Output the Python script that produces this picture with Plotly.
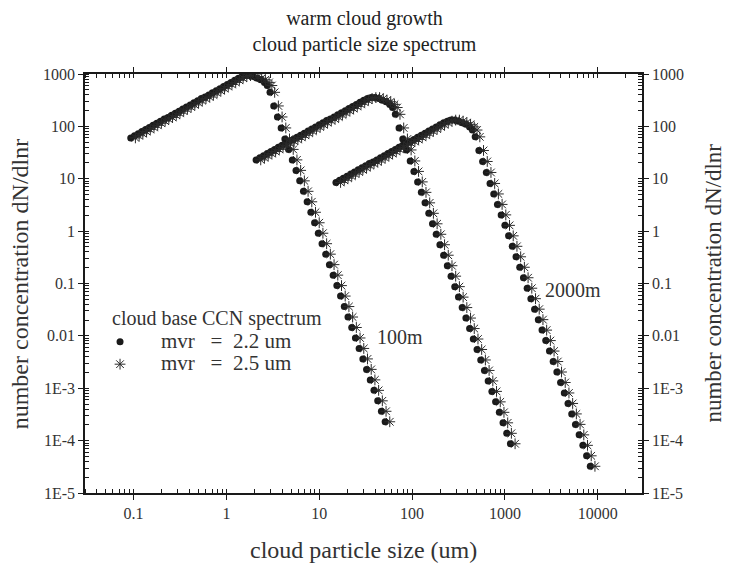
import plotly.graph_objects as go

# ---------------- data ----------------
# curve near cloud base (leftmost)
c1_x_dot = [0.0933, 0.1023, 0.1122, 0.1230, 0.1349, 0.1479, 0.1622, 0.1778, 0.1950, 0.2138,
            0.2344, 0.2570, 0.2818, 0.3090, 0.3388, 0.3715, 0.4074, 0.4467, 0.4898, 0.5370,
            0.5888, 0.6457, 0.7079, 0.7762, 0.8511, 0.9333, 1.023, 1.122, 1.230, 1.349,
            1.479, 1.622,
            1.778, 1.950, 2.138, 2.344, 2.570, 2.754,
            2.951, 3.236, 3.548, 3.890, 4.266, 4.677, 5.129, 5.623, 6.166, 6.761,
            7.413, 8.128, 8.913, 9.772, 10.72, 11.75, 12.88, 14.13, 15.49, 16.98,
            18.62, 20.42, 22.39, 24.55, 26.92, 29.51, 32.36, 35.48, 38.90, 42.66,
            46.77, 51.29]
c1_x_ast = [0.1047, 0.1148, 0.1259, 0.1380, 0.1514, 0.1660, 0.1820, 0.1995, 0.2188, 0.2399,
            0.2630, 0.2884, 0.3162, 0.3467, 0.3802, 0.4169, 0.4571, 0.5012, 0.5495, 0.6026,
            0.6607, 0.7244, 0.7943, 0.8710, 0.9550, 1.047, 1.148, 1.259, 1.380, 1.514,
            1.660, 1.820,
            1.995, 2.188, 2.399, 2.630, 2.884, 3.090,
            3.311, 3.631, 3.981, 4.365, 4.786, 5.248, 5.754, 6.310, 6.918, 7.586,
            8.318, 9.120, 10.00, 10.96, 12.02, 13.18, 14.45, 15.85, 17.38, 19.05,
            20.89, 22.91, 25.12, 27.54, 30.20, 33.11, 36.31, 39.81, 43.65, 47.86,
            52.48, 57.54]
c1_y = [60.26, 66.07, 72.44, 79.43, 87.10, 95.50, 104.7, 114.8, 125.9, 138.0,
        147.9, 162.2, 177.8, 195.0, 213.8, 234.4, 257.0, 281.8, 309.0, 338.8,
        363.1, 398.1, 436.5, 478.6, 524.8, 575.4, 631.0, 691.8, 758.6, 831.8,
        891.3, 933.3,
        933.3, 891.3, 831.8, 776.2, 691.8, 602.6,
        446.7, 245.5, 151.4, 93.33, 57.54, 36.31, 22.91, 14.45, 9.120, 5.754,
        3.631, 2.291, 1.445, 0.9120, 0.5754, 0.3631, 0.2291, 0.1445, 0.09120, 0.05754,
        0.03631, 0.02291, 0.01445, 0.009120, 0.005754, 0.003631, 0.002291, 0.001445, 0.000912, 0.0005754,
        0.0003631, 0.0002291]

# middle curve
c2_x_dot = [2.089, 2.291, 2.512, 2.754, 3.020, 3.311, 3.631, 3.981, 4.365, 4.786,
            5.248, 5.754, 6.310, 6.918, 7.586, 8.318, 9.120, 10.00, 10.96, 12.02,
            13.18, 14.45, 15.85, 17.38, 19.05, 20.89, 22.91, 25.12, 27.54, 30.20,
            33.11, 36.31,
            39.81, 43.65, 47.86, 52.48, 57.54, 61.66,
            66.07, 72.44, 79.43, 87.10, 95.50, 104.7, 114.8, 125.9, 138.0, 151.4,
            166.0, 182.0, 199.5, 218.8, 239.9, 263.0, 288.4, 316.2, 346.7, 380.2,
            416.9, 457.1, 501.2, 549.5, 602.6, 660.7, 724.4, 794.3, 871.0, 955.0,
            1047, 1148]
c2_x_ast = [2.344, 2.570, 2.818, 3.090, 3.388, 3.715, 4.074, 4.467, 4.898, 5.370,
            5.888, 6.457, 7.079, 7.762, 8.511, 9.333, 10.23, 11.22, 12.30, 13.49,
            14.79, 16.22, 17.78, 19.50, 21.38, 23.44, 25.70, 28.18, 30.90, 33.88,
            37.15, 40.74,
            44.67, 48.98, 53.70, 58.88, 64.57, 69.18,
            74.13, 81.28, 89.13, 97.72, 107.2, 117.5, 128.8, 141.3, 154.9, 169.8,
            186.2, 204.2, 223.9, 245.5, 269.2, 295.1, 323.6, 354.8, 389.0, 426.6,
            467.7, 512.9, 562.3, 616.6, 676.1, 741.3, 812.8, 891.3, 977.2, 1072,
            1175, 1288]
c2_y = [22.91, 25.12, 27.54, 30.20, 33.11, 36.31, 39.81, 43.65, 47.86, 52.48,
        56.23, 61.66, 67.61, 74.13, 81.28, 89.13, 97.72, 107.2, 117.5, 128.8,
        138.0, 151.4, 166.0, 182.0, 199.5, 218.8, 239.9, 263.0, 288.4, 316.2,
        338.8, 354.8,
        354.8, 338.8, 316.2, 295.1, 263.0, 229.1,
        169.8, 93.33, 57.54, 35.48, 21.88, 13.80, 8.710, 5.495, 3.467, 2.188,
        1.380, 0.8710, 0.5495, 0.3467, 0.2188, 0.1380, 0.08710, 0.05495, 0.03467, 0.02188,
        0.01380, 0.008710, 0.005495, 0.003467, 0.002188, 0.001380, 0.0008710, 0.0005495, 0.0003467, 0.0002188,
        0.0001380, 0.00008710]

# rightmost curve
c3_x_dot = [15.14, 16.60, 18.20, 19.95, 21.88, 23.99, 26.30, 28.84, 31.62, 34.67,
            38.02, 41.69, 45.71, 50.12, 54.95, 60.26, 66.07, 72.44, 79.43, 87.10,
            95.50, 104.7, 114.8, 125.9, 138.0, 151.4, 166.0, 182.0, 199.5, 218.8,
            239.9, 263.0,
            288.4, 316.2, 346.7, 380.2, 416.9, 446.7,
            478.6, 524.8, 575.4, 631.0, 691.8, 758.6, 831.8, 912.0, 1000, 1096,
            1202, 1318, 1445, 1585, 1738, 1905, 2089, 2291, 2512, 2754,
            3020, 3311, 3631, 3981, 4365, 4786, 5248, 5754, 6310, 6918,
            7586, 8318]
c3_x_ast = [16.98, 18.62, 20.42, 22.39, 24.55, 26.92, 29.51, 32.36, 35.48, 38.90,
            42.66, 46.77, 51.29, 56.23, 61.66, 67.61, 74.13, 81.28, 89.13, 97.72,
            107.2, 117.5, 128.8, 141.3, 154.9, 169.8, 186.2, 204.2, 223.9, 245.5,
            269.2, 295.1,
            323.6, 354.8, 389.0, 426.6, 467.7, 501.2,
            537.0, 588.8, 645.7, 707.9, 776.2, 851.1, 933.3, 1023, 1122, 1230,
            1349, 1479, 1622, 1778, 1950, 2138, 2344, 2570, 2818, 3090,
            3388, 3715, 4074, 4467, 4898, 5370, 5888, 6457, 7079, 7762,
            8511, 9333]
c3_y = [8.511, 9.333, 10.23, 11.22, 12.30, 13.49, 14.79, 16.22, 17.78, 19.50,
        20.89, 22.91, 25.12, 27.54, 30.20, 33.11, 36.31, 39.81, 43.65, 47.86,
        51.29, 56.23, 61.66, 67.61, 74.13, 81.28, 89.13, 97.72, 107.2, 117.5,
        125.9, 131.8,
        131.8, 125.9, 117.5, 109.6, 97.72, 85.11,
        63.10, 34.67, 21.38, 13.18, 8.128, 5.129, 3.236, 2.042, 1.288, 0.8128,
        0.5129, 0.3236, 0.2042, 0.1288, 0.08128, 0.05129, 0.03236, 0.02042, 0.01288, 0.008128,
        0.005129, 0.003236, 0.002042, 0.001288, 0.0008128, 0.0005129, 0.0003236, 0.0002042, 0.0001288, 0.00008128,
        0.00005129, 0.00003236]

series_names = ["mvr\u00a0\u00a0\u00a0=\u00a0\u00a02.2 um", "mvr\u00a0\u00a0\u00a0=\u00a0\u00a02.5 um"]
legend_title = "cloud base CCN spectrum"
curve_labels = ["100m", "2000m"]

x_tickvals = [0.1, 1, 10, 100, 1000, 10000]
x_ticktext = ["0.1", "1", "10", "100", "1000", "10000"]
y_tickvals = [1000, 100, 10, 1, 0.1, 0.01, 0.001, 0.0001, 0.00001]
y_ticktext = ["1000", "100", "10", "1", "0.1", "0.01", "1E-3", "1E-4", "1E-5"]

# ---------------- figure ----------------
FONT = "Liberation Serif"
INK = "#1a1a1a"
TXT = "#333333"

fig = go.Figure()

curves = [(c1_x_dot, c1_x_ast, c1_y), (c2_x_dot, c2_x_ast, c2_y), (c3_x_dot, c3_x_ast, c3_y)]
for i, (xd, xa, yy) in enumerate(curves):
    fig.add_trace(go.Scatter(
        x=xd, y=yy, mode="markers",
        name='<span style="font-size:21px">\u00a0\u00a0\u00a0\u00a0' + series_names[0] + '</span>',
        showlegend=(i == 0), yaxis="y",
        marker=dict(symbol="circle", size=7, color=INK, line=dict(width=0)),
    ))
    fig.add_trace(go.Scatter(
        x=xa, y=yy, mode="markers",
        name='<span style="font-size:21px">\u00a0\u00a0\u00a0\u00a0' + series_names[1] + '</span>',
        showlegend=(i == 0), yaxis="y2",
        marker=dict(symbol="asterisk-open", size=9, color="#2a2a2a",
                    line=dict(width=1, color="#2a2a2a")),
    ))

axis_common = dict(
    type="log", showgrid=False, zeroline=False,
    showline=True, linecolor=INK, linewidth=1.5,
    ticks="outside", ticklen=5, tickwidth=1.2, tickcolor=INK,
    tickfont=dict(family=FONT, size=16, color=TXT),
)
minor_common = dict(dtick="D1", ticks="inside", ticklen=4, tickwidth=1, tickcolor=INK, showgrid=False)

fig.update_layout(
    width=729, height=564,
    margin=dict(l=85, r=87, t=74, b=71),
    paper_bgcolor="white", plot_bgcolor="white",
    font=dict(family=FONT, color=TXT),
    title=dict(
        text="warm cloud growth<br>cloud particle size spectrum",
        x=0.5, xanchor="center", xref="container",
        y=0.955, yanchor="top", yref="container",
        font=dict(family=FONT, size=20, color="#222222"),
    ),
    xaxis=dict(
        **axis_common,
        range=[-1.523, 4.477],
        tickvals=x_tickvals, ticktext=x_ticktext,
        mirror="ticks",
        minor=minor_common,
    ),
    yaxis=dict(
        **axis_common,
        range=[-5, 3],
        tickvals=y_tickvals, ticktext=y_ticktext,
        minor=minor_common,
    ),
    yaxis2=dict(
        **axis_common,
        range=[-5, 3],
        overlaying="y", side="right", anchor="x",
        tickvals=y_tickvals, ticktext=y_ticktext,
        minor=minor_common,
    ),
    legend=dict(
        title=dict(text="\u00a0\u00a0" + legend_title, font=dict(family=FONT, size=20, color=TXT)),
        font=dict(family=FONT, size=15, color=TXT),
        x=0.027, xanchor="left", y=0.462, yanchor="top",
        bgcolor="rgba(0,0,0,0)", borderwidth=0,
        itemwidth=30, tracegroupgap=0,
    ),
    showlegend=True,
)

ann = [
    dict(text="cloud particle size (um)", x=0.5, y=-0.136, xref="paper", yref="paper",
         xanchor="center", yanchor="middle", showarrow=False,
         font=dict(family=FONT, size=24, color=TXT)),
    dict(text="number concentration dN/dlnr", x=-0.117, y=0.5, xref="paper", yref="paper",
         xanchor="center", yanchor="middle", textangle=-90, showarrow=False,
         font=dict(family=FONT, size=24, color=TXT)),
    dict(text="number concentration dN/dlnr", x=1.1275, y=0.5, xref="paper", yref="paper",
         xanchor="center", yanchor="middle", textangle=-90, showarrow=False,
         font=dict(family=FONT, size=23, color=TXT)),
    dict(text=curve_labels[0], x=0.566, y=0.372, xref="paper", yref="paper",
         xanchor="center", yanchor="middle", showarrow=False,
         font=dict(family=FONT, size=20, color=TXT)),
    dict(text=curve_labels[1], x=0.876, y=0.4845, xref="paper", yref="paper",
         xanchor="center", yanchor="middle", showarrow=False,
         font=dict(family=FONT, size=20, color=TXT)),
]
fig.update_layout(annotations=ann)

fig.write_html("out.html", config={"displayModeBar": False},
               post_script="document.body.style.margin='0';document.body.style.padding='0';")
